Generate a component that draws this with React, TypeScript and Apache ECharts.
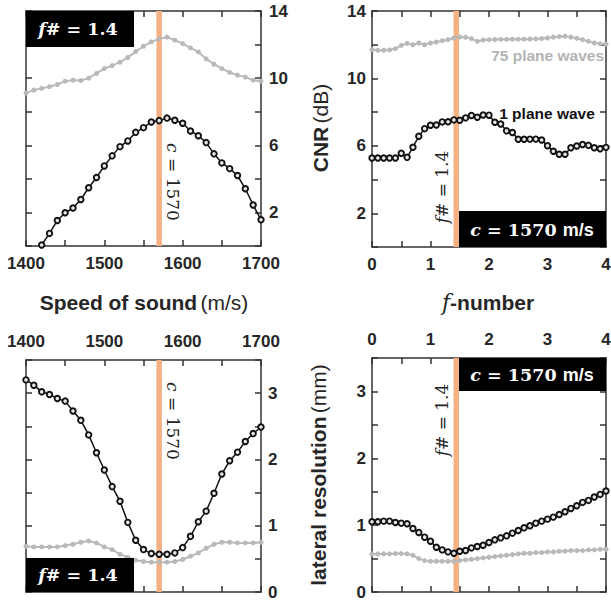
import React, { useEffect, useRef } from 'react';
import * as echarts from 'echarts';

// ---------- data ----------
const SPEEDS = [1400, 1410, 1420, 1430, 1440, 1450, 1460, 1470, 1480, 1490, 1500, 1510, 1520, 1530, 1540, 1550, 1560, 1570, 1580, 1590, 1600, 1610, 1620, 1630, 1640, 1650, 1660, 1670, 1680, 1690, 1700];
const F_NUMBERS = [0, 0.1, 0.2, 0.3, 0.4, 0.5, 0.6, 0.7, 0.8, 0.9, 1.0, 1.1, 1.2, 1.3, 1.4, 1.5, 1.6, 1.7, 1.8, 1.9, 2.0, 2.1, 2.2, 2.3, 2.4, 2.5, 2.6, 2.7, 2.8, 2.9, 3.0, 3.1, 3.2, 3.3, 3.4, 3.5, 3.6, 3.7, 3.8, 3.9, 4.0];

const CNR_SPEED_1PW = [null, null, 0.06, 0.75, 1.52, 1.98, 2.26, 2.77, 3.47, 4.08, 4.77, 5.37, 5.92, 6.26, 6.77, 7.05, 7.39, 7.47, 7.62, 7.49, 7.31, 6.85, 6.57, 6.16, 5.49, 4.95, 4.61, 4.2, 3.41, 2.44, 1.56];
const CNR_SPEED_75PW = [9.11, 9.29, 9.39, 9.49, 9.62, 9.82, 9.88, 9.86, 10.0, 10.28, 10.57, 10.75, 10.95, 11.23, 11.58, 11.9, 12.16, 12.34, 12.44, 12.26, 12.06, 11.8, 11.56, 11.15, 10.83, 10.57, 10.34, 10.18, 10.06, 9.88, 9.82];
const RES_SPEED_1PW = [3.2, 3.12, 3.02, 2.98, 2.92, 2.88, 2.73, 2.59, 2.37, 2.1, 1.84, 1.59, 1.37, 1.05, 0.78, 0.64, 0.58, 0.57, 0.57, 0.59, 0.67, 0.84, 1.06, 1.22, 1.49, 1.78, 1.98, 2.11, 2.27, 2.39, 2.49];
const RES_SPEED_75PW = [0.69, 0.68, 0.68, 0.68, 0.68, 0.7, 0.72, 0.75, 0.77, 0.74, 0.68, 0.64, 0.57, 0.52, 0.48, 0.46, 0.45, 0.45, 0.45, 0.46, 0.49, 0.54, 0.59, 0.66, 0.72, 0.75, 0.75, 0.74, 0.74, 0.74, 0.75];

const CNR_F_1PW = [5.28, 5.28, 5.28, 5.28, 5.28, 5.56, 5.32, 5.92, 6.57, 7.02, 7.22, 7.24, 7.42, 7.43, 7.54, 7.52, 7.66, 7.8, 7.7, 7.83, 7.82, 7.4, 7.3, 6.89, 6.79, 6.39, 6.39, 6.4, 6.4, 6.35, 6.01, 5.68, 5.5, 5.5, 5.89, 5.99, 6.08, 6.03, 5.89, 5.83, 5.91];
const CNR_F_75PW = [11.71, 11.67, 11.67, 11.69, 11.77, 11.96, 12.08, 12.0, 12.1, 12.0, 12.1, 12.16, 12.24, 12.3, 12.4, 12.46, 12.44, 12.36, 12.2, 12.28, 12.3, 12.31, 12.32, 12.32, 12.33, 12.33, 12.33, 12.34, 12.35, 12.37, 12.4, 12.45, 12.48, 12.5, 12.45, 12.38, 12.3, 12.2, 12.1, 12.06, 12.04];
const RES_F_1PW = [1.05, 1.05, 1.06, 1.06, 1.04, 1.03, 1.02, 0.95, 0.89, 0.82, 0.76, 0.67, 0.63, 0.6, 0.58, 0.61, 0.62, 0.66, 0.68, 0.7, 0.74, 0.78, 0.81, 0.84, 0.88, 0.92, 0.96, 0.99, 1.03, 1.06, 1.09, 1.12, 1.16, 1.2, 1.25, 1.29, 1.34, 1.37, 1.42, 1.46, 1.51];
const RES_F_75PW = [0.57, 0.57, 0.57, 0.57, 0.575, 0.575, 0.57, 0.55, 0.5, 0.47, 0.46, 0.46, 0.46, 0.46, 0.46, 0.47, 0.48, 0.49, 0.5, 0.51, 0.52, 0.53, 0.54, 0.55, 0.56, 0.57, 0.58, 0.58, 0.59, 0.59, 0.6, 0.6, 0.61, 0.61, 0.62, 0.62, 0.62, 0.63, 0.63, 0.64, 0.64];

const SELECTED_SPEED = 1570;
const SELECTED_F = 1.44;

const SPEED_RANGE = [1400, 1700, 50];
const F_RANGE = [0, 4, 0.5];
const CNR_RANGE = [0, 14, 2];
const RES_RANGE = [0, 3.5, 0.5];

// ---------- styles ----------
const SANS = 'Liberation Sans, Arial, sans-serif';
const SERIF = 'DejaVu Serif, serif';
const AXIS_COLOR = '#333333';
const TEXT_COLOR = '#262626';
const GRAY = '#b9b9b9';
const ORANGE = '#f4b183';

const pairs = (xs: number[], ys: (number | null)[]) => xs.map((x, i) => [x, ys[i]]);

function axis(
  gridIndex: number,
  range: number[],
  position: string,
  showLabel: boolean,
  labelFilter: (v: number) => boolean,
  margin: number
) {
  return {
    type: 'value',
    gridIndex,
    position,
    min: range[0],
    max: range[1],
    interval: range[2],
    axisLine: { show: true, onZero: false, lineStyle: { color: AXIS_COLOR, width: 1.5 } },
    axisTick: { show: true, inside: true, length: 6, lineStyle: { color: AXIS_COLOR, width: 1.5 } },
    splitLine: { show: false },
    axisLabel: {
      show: showLabel,
      margin,
      showMinLabel: true,
      showMaxLabel: true,
      fontFamily: SANS,
      fontWeight: 'bold',
      fontSize: 17,
      color: TEXT_COLOR,
      formatter: (v: number) => (labelFilter(v) ? String(v) : ''),
    },
  };
}

const every100 = (v: number) => Math.round(v) % 100 === 0;
const integer = (v: number) => Math.abs(v - Math.round(v)) < 1e-9;
const cnrLabel = (v: number) => Math.round(v) % 4 === 2;

function lineSeries(xi: number, yi: number, xs: number[], ys: (number | null)[], black: boolean) {
  return {
    type: 'line',
    xAxisIndex: xi,
    yAxisIndex: yi,
    data: pairs(xs, ys),
    symbol: 'circle',
    showSymbol: true,
    symbolSize: black ? 5.5 : 5,
    silent: true,
    z: black ? 4 : 3,
    lineStyle: black ? { color: '#111111', width: 1.5 } : { color: GRAY, width: 2 },
    itemStyle: black
      ? { color: '#e6e6e6', borderColor: '#111111', borderWidth: 1.9 }
      : { color: GRAY, borderWidth: 0 },
  };
}

function selLine(xi: number, yi: number, x: number, range: number[]) {
  return {
    type: 'line',
    xAxisIndex: xi,
    yAxisIndex: yi,
    data: [[x, range[0]], [x, range[1]]],
    symbol: 'none',
    silent: true,
    z: 2,
    lineStyle: { color: ORANGE, width: 5.5 },
  };
}

function mathLabel(x: number, y: number, rotation: number, parts: string, rich: any) {
  return {
    type: 'text',
    x,
    y,
    rotation,
    z: 100,
    silent: true,
    style: {
      text: parts,
      align: 'center',
      verticalAlign: 'middle',
      textAlign: 'center',
      textVerticalAlign: 'middle',
      rich,
    },
  };
}

export default function App() {
  const ref = useRef<HTMLDivElement>(null);

  useEffect(() => {
    if (!ref.current) return;
    const chart = echarts.init(ref.current, undefined, { renderer: 'svg' });

    const plainMath = {
      i: { fontFamily: SERIF, fontStyle: 'italic', fontSize: 17, fill: '#222', color: '#222' },
      n: { fontFamily: SERIF, fontSize: 17, fill: '#222', color: '#222' },
    };
    const boxMath = {
      i: { fontFamily: SERIF, fontStyle: 'italic', fontWeight: 'bold', fontSize: 17.5, fill: '#fff', color: '#fff' },
      n: { fontFamily: SERIF, fontWeight: 'bold', fontSize: 17.5, fill: '#fff', color: '#fff' },
      s: { fontFamily: SANS, fontWeight: 'bold', fontSize: 18, fill: '#fff', color: '#fff' },
    };
    const titleRich = {
      b: { fontFamily: SANS, fontWeight: 'bold', fontSize: 21, fill: TEXT_COLOR, color: TEXT_COLOR },
      n: { fontFamily: SANS, fontSize: 21, fill: TEXT_COLOR, color: TEXT_COLOR },
      i: { fontFamily: SERIF, fontStyle: 'italic', fontSize: 22, fill: TEXT_COLOR, color: TEXT_COLOR },
    };

    const option: any = {
      animation: false,
      backgroundColor: '#ffffff',
      grid: [
        { left: 26, top: 11, width: 235, height: 235, containLabel: false, outerBoundsMode: 'none' },
        { left: 372, top: 11, width: 234, height: 236, containLabel: false, outerBoundsMode: 'none' },
        { left: 26, top: 360, width: 235, height: 232, containLabel: false, outerBoundsMode: 'none' },
        { left: 372, top: 358, width: 234, height: 234, containLabel: false, outerBoundsMode: 'none' },
      ],
      xAxis: [
        axis(0, SPEED_RANGE, 'bottom', true, every100, 9), // 0
        axis(0, SPEED_RANGE, 'top', false, every100, 9), // 1
        axis(1, F_RANGE, 'bottom', true, integer, 9), // 2
        axis(1, F_RANGE, 'top', false, integer, 9), // 3
        axis(2, SPEED_RANGE, 'top', true, every100, 10), // 4
        axis(2, SPEED_RANGE, 'bottom', false, every100, 10), // 5
        axis(3, F_RANGE, 'top', true, integer, 10), // 6
        axis(3, F_RANGE, 'bottom', false, integer, 10), // 7
      ],
      yAxis: [
        axis(0, CNR_RANGE, 'right', true, cnrLabel, 8), // 0
        axis(0, CNR_RANGE, 'left', false, cnrLabel, 8), // 1
        axis(1, CNR_RANGE, 'left', true, cnrLabel, 6), // 2
        axis(1, CNR_RANGE, 'right', false, cnrLabel, 6), // 3
        axis(2, RES_RANGE, 'right', true, integer, 7), // 4
        axis(2, RES_RANGE, 'left', false, integer, 7), // 5
        axis(3, RES_RANGE, 'left', true, integer, 6), // 6
        axis(3, RES_RANGE, 'right', false, integer, 6), // 7
      ],
      series: [
        selLine(0, 0, SELECTED_SPEED, CNR_RANGE),
        lineSeries(0, 0, SPEEDS, CNR_SPEED_75PW, false),
        lineSeries(0, 0, SPEEDS, CNR_SPEED_1PW, true),

        selLine(2, 2, SELECTED_F, CNR_RANGE),
        lineSeries(2, 2, F_NUMBERS, CNR_F_75PW, false),
        lineSeries(2, 2, F_NUMBERS, CNR_F_1PW, true),

        selLine(4, 4, SELECTED_SPEED, RES_RANGE),
        lineSeries(4, 4, SPEEDS, RES_SPEED_75PW, false),
        lineSeries(4, 4, SPEEDS, RES_SPEED_1PW, true),

        selLine(6, 6, SELECTED_F, RES_RANGE),
        lineSeries(6, 6, F_NUMBERS, RES_F_75PW, false),
        lineSeries(6, 6, F_NUMBERS, RES_F_1PW, true),
      ],
      graphic: [
        // black label boxes
        { type: 'rect', z: 90, silent: true, shape: { x: 26, y: 11, width: 108, height: 36 }, style: { fill: '#000' } },
        mathLabel(78, 29, 0, '{i|f}{n|# = 1.4}', boxMath),
        { type: 'rect', z: 90, silent: true, shape: { x: 26, y: 558, width: 108, height: 34 }, style: { fill: '#000' } },
        mathLabel(78, 575, 0, '{i|f}{n|# = 1.4}', boxMath),
        { type: 'rect', z: 90, silent: true, shape: { x: 459, y: 211, width: 147, height: 36 }, style: { fill: '#000' } },
        mathLabel(532, 230, 0, '{i|c}{n| = 1570 }{s|m/s}', boxMath),
        { type: 'rect', z: 90, silent: true, shape: { x: 459, y: 358, width: 147, height: 33 }, style: { fill: '#000' } },
        mathLabel(532, 375, 0, '{i|c}{n| = 1570 }{s|m/s}', boxMath),

        // rotated annotations next to the orange lines
        mathLabel(173, 182, -Math.PI / 2, '{i|c}{n| = 1570}', plainMath),
        mathLabel(173, 421, -Math.PI / 2, '{i|c}{n| = 1570}', plainMath),
        mathLabel(442, 187, Math.PI / 2, '{i|f}{n|# = 1.4}', plainMath),
        mathLabel(442, 420, Math.PI / 2, '{i|f}{n|# = 1.4}', plainMath),

        // series annotations
        {
          type: 'text', x: 604, y: 55, z: 100, silent: true,
          style: { text: '75 plane waves', fill: '#b3b3b3', font: 'bold 15.5px ' + SANS, align: 'right', verticalAlign: 'middle', textAlign: 'right', textVerticalAlign: 'middle' },
        },
        {
          type: 'text', x: 547, y: 113, z: 100, silent: true,
          style: { text: '1 plane wave', fill: '#111', font: 'bold 15.5px ' + SANS, align: 'center', verticalAlign: 'middle', textAlign: 'center', textVerticalAlign: 'middle' },
        },

        // axis titles
        mathLabel(144, 302, 0, '{b|Speed of sound} {n|(m/s)}', titleRich),
        mathLabel(488, 302, 0, '{i|f}{b|-number}', titleRich),
        mathLabel(320, 128, Math.PI / 2, '{b|CNR} {n|(dB)}', titleRich),
        mathLabel(318, 475, Math.PI / 2, '{b|lateral resolution} {n|(mm)}', titleRich),
      ],
    };

    chart.setOption(option);
    return () => chart.dispose();
  }, []);

  return (
    <div
      ref={ref}
      style={{ position: 'fixed', left: 0, top: 0, width: 611, height: 600, background: '#fff' }}
    />
  );
}
